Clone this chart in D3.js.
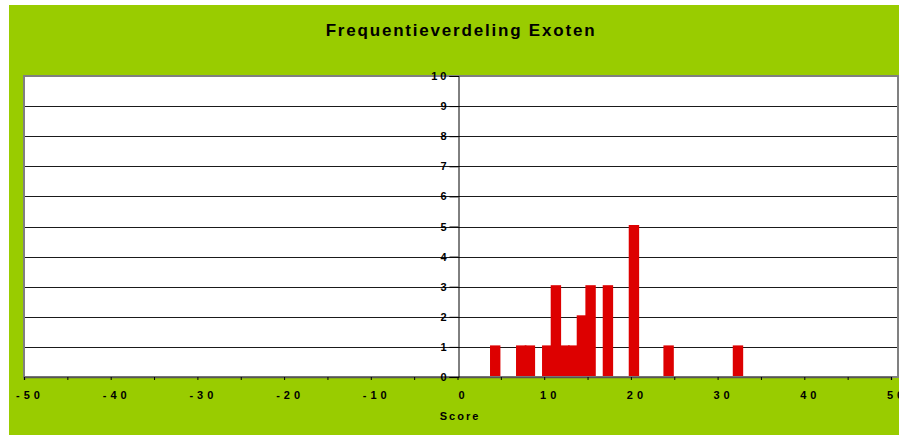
<!DOCTYPE html>
<html>
<head>
<meta charset="utf-8">
<script src="https://cdn.jsdelivr.net/npm/d3@7"></script>
<style>
  html, body { margin: 0; padding: 0; background: #ffffff; }
  svg { display: block; }
  text { font-family: "Liberation Sans", Arial, sans-serif; font-weight: bold; fill: #000; }
</style>
</head>
<body>
<svg id="chart" width="899" height="436"></svg>
<script>
// Histogram of exotic-species scores
const scores = [4, 7, 8, 10, 11, 12, 13, 14, 15, 17, 20, 24, 32];
const counts = [1, 1, 1, 1, 3, 1, 1, 2, 3, 3, 5, 1, 1];
const xTicks = [-50, -40, -30, -20, -10, 0, 10, 20, 30, 40, 50];
const yTicks = [0, 1, 2, 3, 4, 5, 6, 7, 8, 9, 10];
const title = "Frequentieverdeling Exoten";
const xTitle = "Score";

const svg = d3.select("#chart");
const W = 899, H = 436;

// frame
svg.append("rect").attr("x", 9).attr("y", 5).attr("width", W - 9).attr("height", 430)
  .attr("fill", "#99cc00");

const x = d3.scaleLinear().domain([-50, 50]).range([24, 891]);
const y = d3.scaleLinear().domain([0, 10]).range([377, 76]);

const plot = { left: 24, top: 76, right: 898, bottom: 377 };

// plot area
svg.append("rect")
  .attr("x", plot.left).attr("y", plot.top)
  .attr("width", plot.right - plot.left).attr("height", plot.bottom - plot.top)
  .attr("fill", "#ffffff");

// horizontal gridlines
svg.append("g").selectAll("line")
  .data(yTicks.filter(d => d > 0 && d < 10))
  .join("line")
  .attr("x1", plot.left).attr("x2", plot.right)
  .attr("y1", d => Math.round(y(d)) + 0.5).attr("y2", d => Math.round(y(d)) + 0.5)
  .attr("stroke", "#1a1a1a").attr("stroke-width", 1);

// bars (each bin drawn slightly wider than one unit)
svg.append("g").selectAll("rect")
  .data(scores.map((s, i) => ({ s, c: counts[i] })))
  .join("rect")
  .attr("x", d => x(d.s - 0.25))
  .attr("width", d => x(d.s + 0.95) - x(d.s - 0.25))
  .attr("y", d => y(d.c) - 1.5)
  .attr("height", d => y(0) - y(d.c) + 1.5)
  .attr("fill", "#dd0000");

// plot border
svg.append("rect")
  .attr("x", plot.left).attr("y", plot.top)
  .attr("width", plot.right - plot.left).attr("height", plot.bottom - plot.top)
  .attr("fill", "none").attr("stroke", "#808080").attr("stroke-width", 2);

// x axis at zero count
const xAxis = d3.axisBottom(x)
  .tickValues(d3.range(-50, 51, 5))
  .tickSize(3)
  .tickFormat("");
const gx = svg.append("g").attr("transform", `translate(0,${y(0)})`).call(xAxis);
gx.select(".domain").attr("stroke", "#555").attr("stroke-width", 1.5);
gx.selectAll(".tick line").attr("stroke", "#000");

svg.append("g").selectAll("text")
  .data(xTicks)
  .join("text")
  .attr("x", d => x(d) + 6)
  .attr("y", 399)
  .attr("text-anchor", "middle")
  .attr("font-size", 11)
  .attr("letter-spacing", 4)
  .text(d => d);

// y axis at zero score
const yAxis = d3.axisLeft(y).tickValues(yTicks).tickSize(9).tickFormat("");
const gy = svg.append("g").attr("transform", `translate(${Math.round(x(0)) + 0.5},0)`).call(yAxis);
gy.select(".domain").attr("stroke", "#000").attr("stroke-width", 1);
gy.selectAll(".tick line").attr("stroke", "#000");

svg.append("g").selectAll("text")
  .data(yTicks)
  .join("text")
  .attr("x", x(0) - 8)
  .attr("y", d => y(d) + 4)
  .attr("text-anchor", "end")
  .attr("font-size", 11)
  .attr("letter-spacing", 3)
  .text(d => d);

// titles
svg.append("text")
  .attr("x", 461).attr("y", 36)
  .attr("text-anchor", "middle")
  .attr("font-size", 17)
  .attr("letter-spacing", 1.8)
  .text(title);

svg.append("text")
  .attr("x", 460).attr("y", 420)
  .attr("text-anchor", "middle")
  .attr("font-size", 11)
  .attr("letter-spacing", 2)
  .text(xTitle);
</script>
</body>
</html>
